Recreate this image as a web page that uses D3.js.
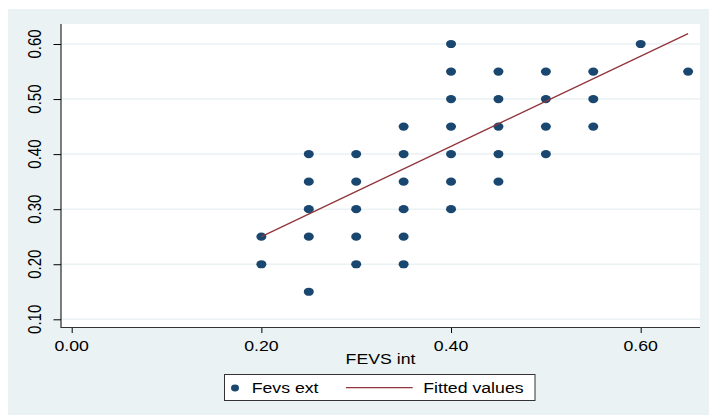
<!DOCTYPE html>
<html>
<head>
<meta charset="utf-8">
<script src="https://cdn.jsdelivr.net/npm/d3@7"></script>
<style>
  html, body { margin: 0; padding: 0; background: #ffffff; }
  svg { display: block; }
  text { font-family: "Liberation Sans", Arial, sans-serif; fill: #000; }
</style>
</head>
<body>
<svg id="chart" width="709" height="415"></svg>
<script>
// ---- data ----
const pointX = [0.20, 0.20,
  0.25, 0.25, 0.25, 0.25, 0.25,
  0.30, 0.30, 0.30, 0.30, 0.30,
  0.35, 0.35, 0.35, 0.35, 0.35, 0.35,
  0.40, 0.40, 0.40, 0.40, 0.40, 0.40, 0.40,
  0.45, 0.45, 0.45, 0.45, 0.45,
  0.50, 0.50, 0.50, 0.50,
  0.55, 0.55, 0.55,
  0.60,
  0.65];
const pointY = [0.25, 0.20,
  0.40, 0.35, 0.30, 0.25, 0.15,
  0.40, 0.35, 0.30, 0.25, 0.20,
  0.45, 0.40, 0.35, 0.30, 0.25, 0.20,
  0.60, 0.55, 0.50, 0.45, 0.40, 0.35, 0.30,
  0.55, 0.50, 0.45, 0.40, 0.35,
  0.55, 0.50, 0.45, 0.40,
  0.55, 0.50, 0.45,
  0.60,
  0.55];
const fittedX = [0.20, 0.65];
const fittedY = [0.250, 0.619];
const xTicks = [0.00, 0.20, 0.40, 0.60];
const yTicks = [0.10, 0.20, 0.30, 0.40, 0.50, 0.60];
const xTitle = "FEVS int";
const legendLabels = ["Fevs ext", "Fitted values"];

// ---- layout ----
const svg = d3.select("#chart");
const W = 709, H = 415;
const plot = { left: 61, right: 700, top: 24, bottom: 327.5 };
const SX = 1.18; // horizontal stretch of text, as in the reference
const navy = "#1a476f", maroon = "#90353b", bg = "#eaf2f3";

const x = d3.scaleLinear().domain([0, 0.6]).range([71.7, 640.7]);
const y = d3.scaleLinear().domain([0.1, 0.6]).range([319.3, 44]);

// backgrounds
svg.append("rect").attr("x", 0).attr("y", 0).attr("width", W).attr("height", H).attr("fill", "#fff");
svg.append("rect").attr("x", 8).attr("y", 9).attr("width", W - 8).attr("height", H - 9).attr("fill", bg);
svg.append("rect").attr("x", plot.left).attr("y", plot.top)
  .attr("width", plot.right - plot.left).attr("height", plot.bottom - plot.top).attr("fill", "#fff");

// gridlines
svg.append("g").selectAll("line").data(yTicks).join("line")
  .attr("x1", plot.left).attr("x2", plot.right)
  .attr("y1", d => y(d)).attr("y2", d => y(d))
  .attr("stroke", bg).attr("stroke-width", 1.5);

// y axis
const yAxis = d3.axisLeft(y).tickValues(yTicks).tickSize(7.5).tickFormat(d3.format(".2f"));
const gy = svg.append("g").attr("transform", `translate(${plot.left},0)`).call(yAxis);
gy.select(".domain").remove();
gy.selectAll(".tick line").attr("stroke", "#000");
gy.selectAll(".tick text").remove();
gy.append("line").attr("x1", 0).attr("x2", 0).attr("y1", plot.top).attr("y2", plot.bottom + 0.5)
  .attr("stroke", "#000").attr("stroke-width", 1);
svg.append("g").selectAll("text").data(yTicks).join("text")
  .attr("transform", d => `translate(41,${y(d)}) scale(${SX},1) rotate(-90)`)
  .attr("text-anchor", "middle").attr("font-size", 15)
  .text(d3.format(".2f"));

// x axis
const xAxis = d3.axisBottom(x).tickValues(xTicks).tickSize(5.5).tickFormat(d3.format(".2f"));
const gx = svg.append("g").attr("transform", `translate(0,${plot.bottom})`).call(xAxis);
gx.select(".domain").remove();
gx.selectAll(".tick line").attr("stroke", "#000");
gx.selectAll(".tick text").remove();
gx.append("line").attr("x1", plot.left).attr("x2", plot.right).attr("y1", 0).attr("y2", 0)
  .attr("stroke", "#333").attr("stroke-width", 1);
svg.append("g").selectAll("text").data(xTicks).join("text")
  .attr("transform", d => `translate(${x(d)},350.7) scale(${SX},1)`)
  .attr("text-anchor", "middle").attr("font-size", 15)
  .text(d3.format(".2f"));

// x title
svg.append("text")
  .attr("transform", `translate(${(plot.left + plot.right) / 2},364) scale(${SX},1)`)
  .attr("text-anchor", "middle").attr("font-size", 15).text(xTitle);

// points
const pts = pointX.map((d, i) => ({ x: d, y: pointY[i] }));
svg.append("g").selectAll("ellipse").data(pts).join("ellipse")
  .attr("cx", d => x(d.x)).attr("cy", d => y(d.y))
  .attr("rx", 5).attr("ry", 4.1).attr("fill", navy);

// fitted line
const fit = fittedX.map((d, i) => ({ x: d, y: fittedY[i] }));
svg.append("path").datum(fit)
  .attr("d", d3.line().x(d => x(d.x)).y(d => y(d.y)))
  .attr("fill", "none").attr("stroke", maroon).attr("stroke-width", 1.3);

// legend
const lg = svg.append("g");
lg.append("rect").attr("x", 224.5).attr("y", 374.5).attr("width", 310.5).attr("height", 26)
  .attr("fill", "#fff").attr("stroke", "#333").attr("stroke-width", 1);
lg.append("ellipse").attr("cx", 235).attr("cy", 388).attr("rx", 4).attr("ry", 3.4).attr("fill", navy);
lg.append("text").attr("transform", `translate(251.7,393.3) scale(${SX},1)`)
  .attr("font-size", 15).text(legendLabels[0]);
lg.append("line").attr("x1", 346).attr("x2", 412.7).attr("y1", 387.7).attr("y2", 387.7)
  .attr("stroke", maroon).attr("stroke-width", 1.3);
lg.append("text").attr("transform", `translate(423.3,393.3) scale(${SX},1)`)
  .attr("font-size", 15).text(legendLabels[1]);
</script>
</body>
</html>
